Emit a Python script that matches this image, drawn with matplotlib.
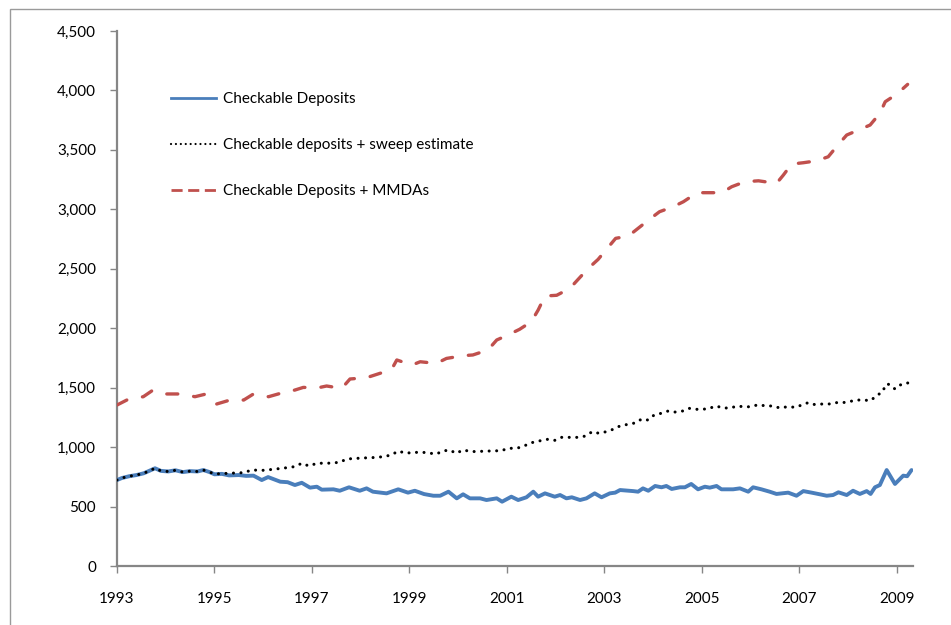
import matplotlib
matplotlib.use("Agg")
import matplotlib.pyplot as plt
from matplotlib.lines import Line2D
from matplotlib.patches import Rectangle
from matplotlib.ticker import FuncFormatter, MultipleLocator

# Checkable deposits ($ billions), by decimal year
cd_dates = [1993.0, 1993.1, 1993.25, 1993.4, 1993.55, 1993.78, 1993.9, 1994.05, 1994.2, 1994.35,
            1994.5, 1994.65, 1994.77, 1994.9, 1995.0, 1995.15, 1995.3, 1995.5, 1995.65, 1995.8,
            1995.97, 1996.1, 1996.35, 1996.5, 1996.65, 1996.79, 1996.96, 1997.1, 1997.2, 1997.44,
            1997.57, 1997.76, 1997.98, 1998.12, 1998.25, 1998.53, 1998.77, 1998.97, 1999.11, 1999.3,
            1999.49, 1999.63, 1999.8, 1999.97, 2000.1, 2000.24, 2000.45, 2000.58, 2000.79, 2000.9,
            2001.09, 2001.23, 2001.4, 2001.54, 2001.64, 2001.78, 2001.98, 2002.09, 2002.22, 2002.33,
            2002.5, 2002.63, 2002.8, 2002.94, 2003.11, 2003.22, 2003.32, 2003.59, 2003.69, 2003.79,
            2003.9, 2004.04, 2004.17, 2004.27, 2004.38, 2004.55, 2004.65, 2004.78, 2004.92, 2005.06,
            2005.16, 2005.3, 2005.4, 2005.64, 2005.78, 2005.95, 2006.05, 2006.22, 2006.39, 2006.53,
            2006.77, 2006.94, 2007.08, 2007.25, 2007.42, 2007.56, 2007.69, 2007.8, 2007.97, 2008.1,
            2008.24, 2008.38, 2008.46, 2008.55, 2008.65, 2008.79, 2008.96, 2009.13, 2009.21, 2009.3]
cd_vals = [723, 740, 755, 765, 780, 822, 800, 795, 805, 790,
           798, 795, 807, 790, 771, 775, 762, 765, 758, 760,
           723, 748, 709, 705, 681, 700, 659, 667, 642, 645,
           633, 662, 633, 653, 625, 611, 645, 617, 633, 605,
           591, 591, 625, 569, 603, 569, 569, 555, 569, 541,
           583, 555, 578, 625, 583, 611, 583, 597, 569, 578,
           555, 569, 611, 578, 611, 617, 639, 630, 625, 653,
           633, 673, 662, 673, 648, 662, 662, 690, 645, 667,
           659, 673, 645, 645, 653, 625, 662, 645, 625, 606,
           617, 591, 630, 617, 603, 591, 597, 620, 597, 633,
           606, 630, 606, 662, 681, 807, 690, 760, 755, 807]

# Checkable deposits plus estimated sweep balances
sweep_dates = [1993.0, 1993.1, 1993.25, 1993.4, 1993.55, 1993.78, 1993.9, 1994.05, 1994.2, 1994.35,
               1994.5, 1994.65, 1994.77, 1994.9, 1995.0, 1995.3, 1995.6, 1995.76, 1996.0, 1996.2,
               1996.45, 1996.65, 1996.79, 1996.94, 1997.1, 1997.35, 1997.57, 1997.71, 1998.02, 1998.25,
               1998.46, 1998.63, 1998.77, 1998.93, 1999.07, 1999.3, 1999.55, 1999.69, 1999.82, 1999.96,
               2000.1, 2000.27, 2000.5, 2000.7, 2000.89, 2001.02, 2001.19, 2001.33, 2001.46, 2001.59,
               2001.84, 2001.98, 2002.12, 2002.46, 2002.61, 2002.75, 2002.89, 2003.04, 2003.18, 2003.33,
               2003.49, 2003.65, 2003.76, 2003.89, 2004.02, 2004.16, 2004.31, 2004.45, 2004.61, 2004.74,
               2004.86, 2005.0, 2005.13, 2005.29, 2005.43, 2005.58, 2005.73, 2005.87, 2006.0, 2006.16,
               2006.31, 2006.45, 2006.6, 2006.76, 2006.91, 2007.05, 2007.18, 2007.32, 2007.48, 2007.62,
               2007.75, 2007.89, 2008.02, 2008.16, 2008.31, 2008.46, 2008.58, 2008.71, 2008.77, 2008.84,
               2008.96, 2009.1, 2009.26]
sweep_vals = [723, 740, 755, 765, 780, 822, 800, 795, 805, 790,
              798, 795, 807, 790, 774, 780, 785, 807, 805, 813,
              825, 836, 864, 841, 864, 865, 872, 900, 908, 912,
              919, 934, 967, 948, 956, 955, 942, 967, 976, 948,
              976, 962, 965, 968, 970, 990, 990, 1004, 1032, 1046,
              1066, 1057, 1082, 1082, 1093, 1130, 1116, 1130, 1150, 1180,
              1192, 1205, 1236, 1228, 1270, 1284, 1304, 1295, 1304, 1326,
              1318, 1318, 1323, 1346, 1329, 1329, 1346, 1338, 1340, 1357,
              1346, 1346, 1329, 1340, 1335, 1354, 1374, 1357, 1363, 1363,
              1374, 1374, 1382, 1396, 1396, 1391, 1432, 1466, 1528, 1528,
              1489, 1531, 1542]

# Checkable deposits plus money market deposit accounts
mmda_dates = [1993.0, 1993.23, 1993.54, 1993.74, 1994.02, 1994.29, 1994.6, 1994.8, 1995.04, 1995.32,
              1995.6, 1995.8, 1996.11, 1996.35, 1996.65, 1996.82, 1997.16, 1997.3, 1997.61, 1997.78,
              1998.12, 1998.39, 1998.63, 1998.74, 1999.05, 1999.22, 1999.55, 1999.76, 2000.1, 2000.3,
              2000.61, 2000.79, 2001.02, 2001.26, 2001.5, 2001.64, 2001.78, 2002.02, 2002.29, 2002.46,
              2002.67, 2002.87, 2003.04, 2003.23, 2003.49, 2003.69, 2003.93, 2004.13, 2004.41, 2004.62,
              2004.9, 2005.13, 2005.41, 2005.61, 2005.88, 2006.16, 2006.53, 2006.67, 2006.84, 2007.08,
              2007.35, 2007.59, 2007.79, 2007.97, 2008.21, 2008.45, 2008.65, 2008.76, 2009.0, 2009.22]
mmda_vals = [1354, 1402, 1424, 1480, 1447, 1447, 1424, 1444, 1362, 1396,
             1396, 1447, 1424, 1452, 1480, 1502, 1502, 1514, 1494, 1573,
             1584, 1620, 1651, 1733, 1690, 1718, 1704, 1746, 1769, 1775,
             1817, 1901, 1943, 1991, 2055, 2153, 2271, 2277, 2335, 2411,
             2504, 2579, 2663, 2756, 2775, 2840, 2918, 2980, 3022, 3064,
             3140, 3140, 3140, 3190, 3232, 3240, 3218, 3288, 3381, 3392,
             3408, 3442, 3541, 3625, 3667, 3709, 3807, 3905, 3970, 4051]

series_labels = ["Checkable Deposits",
                 "Checkable deposits + sweep estimate",
                 "Checkable Deposits + MMDAs"]
year_ticks = [1993, 1995, 1997, 1999, 2001, 2003, 2005, 2007, 2009]

BLUE = "#4a7ebb"
RED = "#c0504d"
AXIS_GREY = "#868686"
FONT = ["Lato", "DejaVu Sans"]

plt.rcParams["font.family"] = FONT

fig = plt.figure(figsize=(9.51, 6.25), dpi=100)
W, H = 951, 625

# thin outer chart-area frame
fig.patches.append(Rectangle((10 / W, -0.5), 2.0, 1.5 - 8.5 / H,
                             transform=fig.transFigure, fill=False,
                             edgecolor="#9a9a9a", linewidth=1.0))

ax = fig.add_axes([117 / W, 1 - 566 / H, (913 - 117) / W, (566 - 31) / H])

ax.plot(cd_dates, cd_vals, color=BLUE, lw=2.8, solid_joinstyle="round",
        solid_capstyle="round", zorder=3)
ax.plot(sweep_dates, sweep_vals, color="black", lw=2.2,
        linestyle=(0, (0.01, 2.45)), dash_capstyle="round", zorder=4)
ax.plot(mmda_dates, mmda_vals, color=RED, lw=2.4,
        linestyle=(0, (3.3, 4.8)), dash_capstyle="round", zorder=3)

ax.set_xlim(1993, 2009.33)
ax.set_ylim(0, 4500)
ax.set_xticks(year_ticks)
ax.set_xticklabels([str(y) for y in year_ticks])
ax.yaxis.set_major_locator(MultipleLocator(500))
ax.yaxis.set_major_formatter(FuncFormatter(lambda v, p: f"{int(v):,}"))

for side in ("top", "right"):
    ax.spines[side].set_visible(False)
for side in ("left", "bottom"):
    ax.spines[side].set_color(AXIS_GREY)
    ax.spines[side].set_linewidth(1.6)

ax.tick_params(axis="y", direction="out", length=5, width=1, color=AXIS_GREY,
               labelsize=11, pad=10, labelcolor="black")
ax.tick_params(axis="x", direction="out", length=5, width=1, color=AXIS_GREY,
               labelsize=11, pad=14, labelcolor="black")

handles = [
    Line2D([], [], color=BLUE, lw=2.0),
    Line2D([], [], color="black", lw=1.6, linestyle=(0, (0.01, 2.2)), dash_capstyle="round"),
    Line2D([], [], color=RED, lw=2.0, linestyle=(0, (4.0, 2.0))),
]
ax.legend(handles, series_labels, loc="upper left",
          bbox_to_anchor=(171 / W, 1 - 92 / H), bbox_transform=fig.transFigure,
          frameon=False, fontsize=11, handlelength=2.95, handletextpad=0.45,
          labelspacing=2.1, borderpad=0, borderaxespad=0)

fig.savefig("out.png", dpi=100, facecolor="white")
